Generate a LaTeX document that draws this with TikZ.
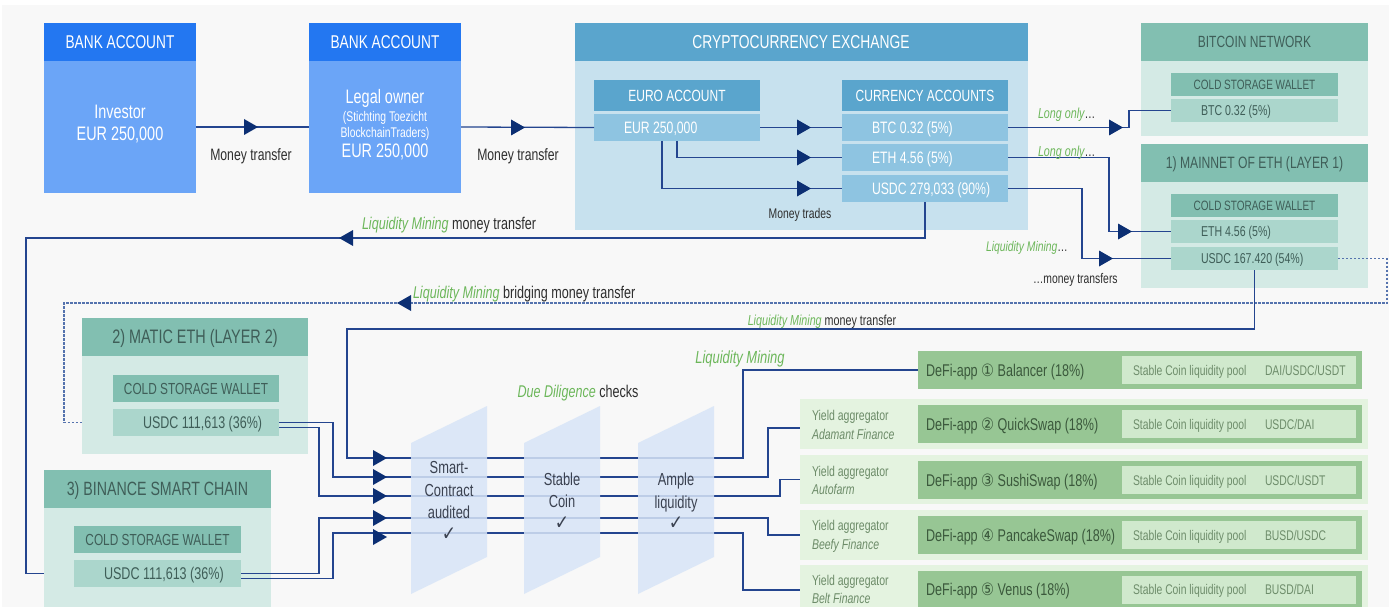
\documentclass[tikz,border=0pt]{standalone}
\usepackage{fontspec}
\setmainfont{Liberation Sans}[FakeStretch=0.74]
\newfontfamily\symf{DejaVu Sans}[FakeStretch=0.85]
\usetikzlibrary{calc}
\definecolor{bgc}{HTML}{F8F8F8}
\definecolor{bankH}{HTML}{2377F1}
\definecolor{bankB}{HTML}{6BA5F7}
\definecolor{exH}{HTML}{5AA5CD}
\definecolor{exB}{HTML}{C7E1EE}
\definecolor{exR}{HTML}{8EC4E1}
\definecolor{netH}{HTML}{82BFB1}
\definecolor{netB}{HTML}{D4EAE5}
\definecolor{netR}{HTML}{ABD6CC}
\definecolor{netT}{HTML}{3F5E58}
\definecolor{dfG}{HTML}{97C694}
\definecolor{dfI}{HTML}{D0E9CD}
\definecolor{dfO}{HTML}{E4F3E0}
\definecolor{dfT}{HTML}{3B593C}
\definecolor{dfIT}{HTML}{6E8D6B}
\definecolor{yT}{HTML}{6C8B68}
\definecolor{grn}{HTML}{6DB75B}
\definecolor{dk}{HTML}{2E2E2E}
\definecolor{chkT}{HTML}{3A4150}
\definecolor{chkc}{HTML}{D8E5F7}
\definecolor{lnc}{HTML}{24458F}
\definecolor{dotc}{HTML}{5573AE}
\definecolor{arc}{HTML}{0C2F73}
\newcommand\fsz[1]{\fontsize{#1}{#1}\selectfont}
\newcommand\gi[1]{{\color{grn}\itshape #1}}
\newcommand\bx[6]{\node[box,fill=#6,minimum width={#4-#2},minimum height={#5-#3}] (#1) at ({(#2+#4)/2},{(#3+#5)/2}) {};}
\newcommand\tx[6]{\node[txt,anchor=base,text=#5,font=\fsz{#4}] (#1) at (#2,{#3+0.358*#4}) {#6};}
\newcommand\txl[6]{\node[txt,anchor=base west,text=#5,font=\fsz{#4}] (#1) at (#2,{#3+0.358*#4}) {#6};}
\newcommand\arR[2]{\fill[arc] ({#1+7},#2) -- ({#1-7},{#2-8}) -- ({#1-7},{#2+8}) -- cycle;}
\newcommand\arL[2]{\fill[arc] ({#1-7},#2) -- ({#1+7},{#2-8}) -- ({#1+7},{#2+8}) -- cycle;}
\begin{document}
\begin{tikzpicture}[x=1pt,y=-1pt,
 box/.style={inner sep=0pt,outer sep=0pt,draw=none},
 txt/.style={inner sep=0pt,outer sep=0pt},
 ln/.style={draw=lnc,line width=1.3pt},
 dotl/.style={draw=dotc,line width=1.4pt,dash pattern=on 2.2pt off 1.8pt},
 chk/.style={fill=chkc,fill opacity=0.85}]
\useasboundingbox (0,0) rectangle (1389,607);
\clip (0,0) rectangle (1389,607);
\fill[white] (0,0) rectangle (1389,607);
\fill[bgc] (2,5) rectangle (1389,607);
% boxes
\bx{b1h}{44}{23}{196}{61}{bankH}
\bx{b1b}{44}{61}{196}{193}{bankB}
\bx{b2h}{309}{23}{461}{61}{bankH}
\bx{b2b}{309}{61}{461}{193}{bankB}
\bx{exh}{575}{23}{1028}{61}{exH}
\bx{exb}{575}{61}{1028}{230}{exB}
\bx{euh}{594}{80}{760}{111}{exH}
\bx{eur}{594}{114}{760}{141}{exR}
\bx{cuh}{842}{80}{1008}{111}{exH}
\bx{btcx}{842}{114}{1008}{141}{exR}
\bx{ethx}{842}{144}{1008}{171}{exR}
\bx{usdx}{842}{175}{1008}{202}{exR}
\bx{bnh}{1141}{23}{1368}{61}{netH}
\bx{bnb}{1141}{61}{1368}{136}{netB}
\bx{bnw}{1171}{73}{1338}{96}{netH}
\bx{bnbtc}{1171}{99}{1338}{122}{netR}
\bx{mnh}{1141}{144}{1368}{182}{netH}
\bx{mnb}{1141}{182}{1368}{288}{netB}
\bx{mnw}{1171}{194}{1338}{217}{netH}
\bx{mneth}{1171}{220}{1338}{243}{netR}
\bx{mnusd}{1171}{247}{1338}{270}{netR}
\bx{mth}{82}{318}{308}{356}{netH}
\bx{mtb}{82}{356}{308}{454}{netB}
\bx{mtw}{113}{375}{279}{402}{netH}
\bx{mtusd}{113}{409}{279}{436}{netR}
\bx{bsh}{44}{470}{271}{508}{netH}
\bx{bsb}{44}{508}{271}{607}{netB}
\bx{bsw}{74}{526}{241}{553}{netH}
\bx{bsusd}{74}{560}{241}{587}{netR}
\bx{d1}{918}{351}{1362}{389}{dfG}
\bx{d1i}{1122}{356}{1356}{384}{dfI}
\bx{y2}{800}{399}{1368}{449}{dfO}
\bx{d2}{918}{405}{1362}{443}{dfG}
\bx{d2i}{1122}{410}{1356}{438}{dfI}
\bx{y3}{800}{455}{1368}{504}{dfO}
\bx{d3}{918}{461}{1362}{499}{dfG}
\bx{d3i}{1122}{466}{1356}{494}{dfI}
\bx{y4}{800}{510}{1368}{560}{dfO}
\bx{d4}{918}{516}{1362}{554}{dfG}
\bx{d4i}{1122}{521}{1356}{549}{dfI}
\bx{y5}{800}{565}{1368}{615}{dfO}
\bx{d5}{918}{571}{1362}{609}{dfG}
\bx{d5i}{1122}{576}{1356}{604}{dfI}
% connectors
\draw[ln] (b1b.east) -- (b2b.west);
\draw[ln] (b2b.east) -- (eur.west);
\draw[ln] (eur.east) -- (btcx.west);
\draw[ln] (eur.south) |- (ethx.west);
\draw[ln] ([xshift=-15pt]eur.south) |- (usdx.west);
\draw[ln] (btcx.east) -| (1129,110.5) -- (bnbtc.west);
\draw[ln] (ethx.east) -| (1109,231.5) -- (mneth.west);
\draw[ln] (usdx.east) -| (1082,258.5) -- (mnusd.west);
\draw[ln] (usdx.south) |- (26,238) |- (bsusd.west -| bsb.west);
\draw[dotl] (mnusd.east) -- (1387,258.5) |- (64,303) |- (mtusd.west -| mtb.west);
\draw[ln] (mnusd.south) |- (347,329) |- (743,458) |- (d1.west);
\draw[ln] (mtusd.east) -| (333,477) -- (768,477) |- ([yshift=-4pt]y2.west);
\draw[ln] ([yshift=-5pt]mtusd.east) -| (319,496) -- (780,496) |- (y3.west);
\draw[ln] (bsusd.east) -| (319,518) -- (768,518) |- (y4.west);
\draw[ln] ([yshift=-5pt]bsusd.east) -| (333,533) -- (743,533) |- (y5.west);
% checks
\fill[chk] (411,443) -- (487,406) -- (487,557) -- (411,594) -- cycle;
\fill[chk] (524,443) -- (600,406) -- (600,557) -- (524,594) -- cycle;
\fill[chk] (638,443) -- (714,406) -- (714,557) -- (638,594) -- cycle;
% arrowheads
\arR{251}{127} \arR{518}{127.5}
\arR{804}{127.5} \arR{804}{157.5} \arR{804}{188.5}
\arR{1116}{127.5} \arR{1125}{231.5} \arR{1106}{258.5}
\arL{346}{238} \arL{404}{303}
\arR{380}{458} \arR{380}{477} \arR{380}{496} \arR{380}{518} \arR{380}{537}
% texts
\tx{t1}{120}{42}{18.5}{white}{BANK ACCOUNT}
\tx{t2}{120}{112}{19.5}{white}{Investor}
\tx{t3}{120}{134}{19.5}{white}{EUR 250,000}
\tx{t4}{385}{42}{18.5}{white}{BANK ACCOUNT}
\tx{t5}{385}{97}{19.5}{white}{Legal owner}
\tx{t6}{385}{116}{14}{white}{(Stichting Toezicht}
\tx{t7}{385}{132}{14}{white}{BlockchainTraders)}
\tx{t8}{385}{151}{19.5}{white}{EUR 250,000}
\tx{t9}{251}{155}{16.5}{dk}{Money transfer}
\tx{t10}{518}{155}{16.5}{dk}{Money transfer}
\tx{t11}{801}{42}{18.7}{white}{CRYPTOCURRENCY EXCHANGE}
\tx{t12}{677}{95.5}{16.2}{white}{EURO ACCOUNT}
\tx{t13}{925}{95.5}{16.2}{white}{CURRENCY ACCOUNTS}
\txl{t14}{624}{127.5}{16.5}{white}{EUR 250,000}
\txl{t15}{872}{127.5}{16.5}{white}{BTC 0.32 (5\%)}
\txl{t16}{872}{157.5}{16.5}{white}{ETH 4.56 (5\%)}
\txl{t17}{872}{188.5}{16.5}{white}{USDC 279,033 (90\%)}
\tx{t18}{800}{213}{14}{dk}{Money trades}
\tx{t19}{1254.5}{42}{16.2}{netT}{BITCOIN NETWORK}
\tx{t20}{1254.5}{84.5}{13.5}{netT}{COLD STORAGE WALLET}
\txl{t21}{1201}{110.5}{14.3}{netT}{BTC 0.32 (5\%)}
\tx{t22}{1254.5}{163}{16.4}{netT}{1) MAINNET OF ETH (LAYER 1)}
\tx{t23}{1254.5}{205.5}{13.5}{netT}{COLD STORAGE WALLET}
\txl{t24}{1201}{231.5}{14.3}{netT}{ETH 4.56 (5\%)}
\txl{t25}{1201}{258.5}{14.3}{netT}{USDC 167.420 (54\%)}
\txl{t26}{1038}{113}{14.5}{dk}{\gi{Long only}…}
\txl{t27}{1038}{151}{14.5}{dk}{\gi{Long only}…}
\txl{t28}{986}{246}{14}{dk}{\gi{Liquidity Mining}…}
\txl{t29}{1033}{278}{14}{dk}{…money transfers}
\txl{t30}{362}{223}{17}{dk}{\gi{Liquidity Mining} money transfer}
\txl{t31}{413}{292}{17}{dk}{\gi{Liquidity Mining} bridging money transfer}
\tx{t32}{822}{320}{14.5}{dk}{\gi{Liquidity Mining} money transfer}
\tx{t33}{195}{337}{19.5}{netT}{2) MATIC ETH (LAYER 2)}
\tx{t34}{196}{388.5}{16}{netT}{COLD STORAGE WALLET}
\txl{t35}{143}{422.5}{16.9}{netT}{USDC 111,613 (36\%)}
\tx{t36}{157.5}{489}{19.2}{netT}{3) BINANCE SMART CHAIN}
\tx{t37}{157.5}{539.5}{16}{netT}{COLD STORAGE WALLET}
\txl{t38}{104}{573.5}{17}{netT}{USDC 111,613 (36\%)}
\tx{t39}{578}{391}{17}{dk}{\gi{Due Diligence} checks}
\tx{t40}{740}{357}{17.5}{dk}{\gi{Liquidity Mining}}
\tx{c1}{449}{467}{17.4}{chkT}{Smart-}
\tx{c2}{449}{490}{17.4}{chkT}{Contract}
\tx{c3}{449}{512}{17.4}{chkT}{audited}
\tx{c4}{449}{533}{20}{chkT}{\symf ✓}
\tx{c5}{562}{479}{17.4}{chkT}{Stable}
\tx{c6}{562}{501}{17.4}{chkT}{Coin}
\tx{c7}{562}{522}{20}{chkT}{\symf ✓}
\tx{c8}{676}{479}{17.4}{chkT}{Ample}
\tx{c9}{676}{502}{17.4}{chkT}{liquidity}
\tx{c10}{676}{522}{20}{chkT}{\symf ✓}
\txl{d1t}{926}{370}{17}{dfT}{DeFi-app {\symf ①} Balancer (18\%)}
\txl{d2t}{926}{424}{17}{dfT}{DeFi-app {\symf ②} QuickSwap (18\%)}
\txl{d3t}{926}{480}{17}{dfT}{DeFi-app {\symf ③} SushiSwap (18\%)}
\txl{d4t}{926}{535}{17}{dfT}{DeFi-app {\symf ④} PancakeSwap (18\%)}
\txl{d5t}{926}{589}{17}{dfT}{DeFi-app {\symf ⑤} Venus (18\%)}
\txl{p1}{1133}{370}{14}{dfIT}{Stable Coin liquidity pool}
\txl{p2}{1133}{424}{14}{dfIT}{Stable Coin liquidity pool}
\txl{p3}{1133}{480}{14}{dfIT}{Stable Coin liquidity pool}
\txl{p4}{1133}{535}{14}{dfIT}{Stable Coin liquidity pool}
\txl{p5}{1133}{589}{14}{dfIT}{Stable Coin liquidity pool}
\txl{q1}{1265}{370}{14}{dfIT}{DAI/USDC/USDT}
\txl{q2}{1265}{424}{14}{dfIT}{USDC/DAI}
\txl{q3}{1265}{480}{14}{dfIT}{USDC/USDT}
\txl{q4}{1265}{535}{14}{dfIT}{BUSD/USDC}
\txl{q5}{1265}{589}{14}{dfIT}{BUSD/DAI}
\txl{ya2}{812}{415}{14.2}{yT}{Yield aggregator}
\txl{yb2}{812}{434}{14.2}{yT}{\itshape Adamant Finance}
\txl{ya3}{812}{471}{14.2}{yT}{Yield aggregator}
\txl{yb3}{812}{489}{14.2}{yT}{\itshape Autofarm}
\txl{ya4}{812}{525}{14.2}{yT}{Yield aggregator}
\txl{yb4}{812}{544}{14.2}{yT}{\itshape Beefy Finance}
\txl{ya5}{812}{580}{14.2}{yT}{Yield aggregator}
\txl{yb5}{812}{598}{14.2}{yT}{\itshape Belt Finance}
\end{tikzpicture}
\end{document}
